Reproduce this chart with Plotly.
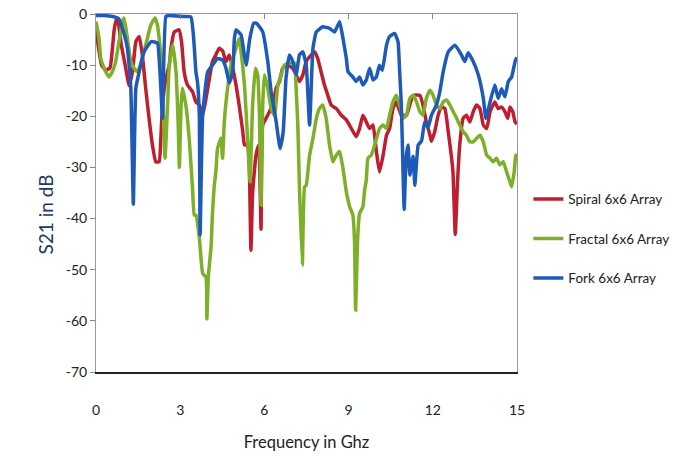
import plotly.graph_objects as go

# ---------------- data ----------------
spiral_freq = [0, 0.1, 0.2, 0.35, 0.5, 0.58, 0.65, 0.71, 0.8, 0.9, 1.04, 1.18, 1.3, 1.42, 1.54, 1.65, 1.77,
               1.89, 2.01, 2.13, 2.25, 2.31, 2.37, 2.49, 2.61, 2.67, 2.79, 2.96, 3.05, 3.14, 3.26, 3.44,
               3.56, 3.68, 3.8, 3.92, 4.04, 4.15, 4.27, 4.39, 4.51, 4.63, 4.75, 4.87, 4.99, 5.1, 5.23,
               5.29, 5.4, 5.46, 5.52, 5.58, 5.7, 5.8, 5.88, 5.94, 6.06, 6.18, 6.3, 6.42, 6.54, 6.65,
               6.83, 7.01, 7.13, 7.25, 7.37, 7.49, 7.67, 7.79, 7.9, 8.02, 8.14, 8.26, 8.38, 8.56, 8.74,
               8.92, 9.1, 9.27, 9.39, 9.51, 9.63, 9.75, 9.87, 9.99, 10.1, 10.23, 10.35, 10.46, 10.58,
               10.7, 10.88, 11.06, 11.18, 11.3, 11.54, 11.65, 11.77, 11.9, 11.95, 12.07, 12.19, 12.31,
               12.43, 12.55, 12.67, 12.72, 12.8, 12.88, 12.96, 13.08, 13.2, 13.32, 13.44, 13.56, 13.68,
               13.8, 13.92, 14.04, 14.21, 14.33, 14.45, 14.57, 14.67, 14.75, 14.85, 14.93, 15]
spiral_s21 = [-3, -7, -10, -11, -10.5, -7, -3, -1.2, -2, -6, -10, -14, -11.3, -5.4, -4.4, -8, -14.5,
              -20.4, -25.6, -28.9, -28.9, -24.3, -17.8, -12.6, -10, -6.7, -3.5, -3.1, -5.5, -11.3, -13.9, -15.2,
              -17.2, -17.8, -19.8, -16.5, -12.6, -9.3, -8, -6.7, -7.2, -9.3, -8, -10.6, -13.9, -17.8, -23,
              -25.6, -25.6, -29.5, -46.2, -35, -27.6, -25.6, -42.1, -21.7, -20.4, -19.1, -17.8, -14.5, -13.2, -10.6,
              -10, -10.6, -11.9, -13.2, -11.9, -9.3, -8, -7.4, -8.7, -11.3, -13.9, -15.9, -17.8, -18.5, -19.8,
              -20.7, -22.4, -24, -22.4, -19.8, -21.1, -22.4, -21.7, -26.9, -30.9, -27.6, -23.7, -22.4, -18.5,
              -17.2, -19.8, -19.8, -17.8, -15.9, -15.9, -17.8, -21.1, -23.7, -24.9, -23, -19.8, -18.2,
              -18.5, -23, -28.2, -31, -43.1, -33, -25.6, -20.4, -19.8, -21.1, -19.1, -17.8, -18.5,
              -21.7, -22.4, -19.1, -17.2, -18.5, -18.2, -19.1, -20.4, -18.2, -19.1, -21.1, -21.5]

fractal_freq = [0, 0.11, 0.17, 0.29, 0.46, 0.58, 0.7, 0.82, 0.94, 1.0, 1.12, 1.24, 1.36, 1.48, 1.6, 1.71,
                1.83, 1.95, 2.1, 2.19, 2.31, 2.39, 2.46, 2.55, 2.61, 2.73, 2.85, 2.93, 2.97, 3.03, 3.08,
                3.2, 3.32, 3.44, 3.5, 3.56, 3.68, 3.8, 3.92, 3.95, 4.0, 4.1, 4.15, 4.21, 4.27, 4.33, 4.45,
                4.51, 4.57, 4.69, 4.81, 4.99, 5.1, 5.17, 5.29, 5.4, 5.49, 5.58, 5.68, 5.76, 5.82, 5.88,
                5.94, 6.0, 6.12, 6.24, 6.36, 6.48, 6.6, 6.71, 6.89, 7.07, 7.13, 7.19, 7.25, 7.35, 7.43,
                7.49, 7.61, 7.73, 7.85, 7.96, 8.08, 8.2, 8.32, 8.44, 8.56, 8.68, 8.8, 8.92, 9.04, 9.15,
                9.21, 9.25, 9.32, 9.39, 9.51, 9.57, 9.63, 9.69, 9.81, 9.93, 10.1, 10.23, 10.35, 10.46,
                10.58, 10.7, 10.82, 10.94, 11.06, 11.18, 11.3, 11.42, 11.54, 11.65, 11.77, 11.9, 12.01,
                12.13, 12.25, 12.37, 12.49, 12.61, 12.73, 12.85, 12.96, 13.08, 13.2, 13.32, 13.44, 13.56,
                13.68, 13.8, 13.92, 14.04, 14.15, 14.27, 14.39, 14.51, 14.63, 14.75, 14.81, 14.9, 14.96, 15]
fractal_s21 = [-1.5, -4.8, -8.7, -10.6, -12.3, -11.3, -9.3, -5.4, -1.5, -0.8, -4.8, -9.3, -10.6, -11.3, -9.6, -7.4,
               -4.8, -2.2, -0.8, -2.2, -8, -17.8, -28.2, -17.8, -10, -6, -11.3, -22, -30, -18, -14.5,
               -17.8, -24.3, -34.1, -39.3, -39.3, -43.6, -50.7, -51.5, -59.6, -51.5, -45.5, -39, -33.8, -30.9, -26.3, -24.3,
               -28.2, -21.1, -14.5, -10, -6.7, -4.8, -7.4, -13.9, -24.3, -32.8, -17.8, -10.6, -11.9, -19.1, -37.4,
               -17.8, -11.9, -14.5, -18.5, -19.8, -13.9, -11.9, -10, -9.6, -9.6, -14.5, -21.7, -34.1, -49.1, -33.8,
               -33.5, -27.6, -24.3, -20.4, -18.5, -17.8, -20.4, -25.6, -28.9, -27.6, -26.9, -30.2, -34.8, -37.7, -39.3,
               -44.2, -57.9, -44.2, -39, -37.7, -34.4, -32.5, -28.2, -27.6, -25.6, -22.4, -21.7, -22.4, -19.8,
               -17.2, -15.9, -17.8, -20.4, -19.8, -16.5, -15.9, -17.2, -19.1, -19.8, -16.5, -14.9, -15.9,
               -17.8, -18.5, -17.2, -16.8, -17.8, -19.1, -20.4, -21.7, -23, -23.7, -25, -25, -24.3,
               -23.7, -25, -27.6, -28.2, -28.9, -28.2, -29.5, -28.9, -30.9, -32.8, -33.8, -30.9, -27.6, -27.5]

fork_freq = [0, 0.3, 0.6, 0.82, 0.94, 1.12, 1.24, 1.33, 1.42, 1.54, 1.71, 1.97, 2.19, 2.25, 2.31, 2.37,
             2.49, 2.6, 2.9, 3.1, 3.38, 3.48, 3.56, 3.62, 3.68, 3.71, 3.8, 3.98, 4.15, 4.33, 4.51, 4.63,
             4.75, 4.87, 4.93, 4.99, 5.17, 5.27, 5.35, 5.48, 5.62, 5.72, 5.94, 6.12, 6.24, 6.42, 6.56,
             6.67, 6.77, 6.89, 7.01, 7.13, 7.25, 7.37, 7.49, 7.61, 7.73, 7.85, 8.08, 8.32, 8.5, 8.68,
             8.8, 8.92, 8.98, 9.15, 9.27, 9.39, 9.51, 9.63, 9.75, 9.87, 9.99, 10.1, 10.2, 10.35, 10.46,
             10.64, 10.76, 10.82, 10.88, 10.94, 10.98, 11.05, 11.12, 11.18, 11.3, 11.36, 11.48, 11.6,
             11.71, 11.83, 11.95, 12.13, 12.25, 12.37, 12.55, 12.79, 13.02, 13.14, 13.26, 13.44, 13.62,
             13.8, 13.89, 14.04, 14.21, 14.33, 14.45, 14.57, 14.69, 14.81, 14.96, 15]
fork_s21 = [-0.3, -0.3, -0.5, -1, -2.8, -6.7, -14.5, -37.2, -14.5, -11.3, -7.4, -5.4, -5.7, -8.7, -14.5, -20.4,
            -0.5, -0.3, -0.4, -0.5, -0.6, -4.8, -11.3, -13.5, -19.8, -43.2, -19.8, -11.3, -10, -8.7, -9, -10.6,
            -13.5, -11.3, -4.8, -3.1, -4.1, -7.5, -10, -4.8, -1.8, -1.8, -3.5, -9.3, -15.2, -21.1, -26.3,
            -23, -12.6, -8, -9.3, -11.9, -8, -7.4, -10, -21.7, -6.7, -3.5, -2.5, -2.8, -3.5, -1.5,
            -4.8, -8.7, -11.3, -12.3, -13.2, -12.3, -13.9, -12.9, -10.6, -12.9, -12.3, -10, -11, -6.1, -4.4,
            -3.8, -5.4, -11.3, -17.9, -30.9, -38.2, -28, -25.6, -31.5, -27.8, -33.5, -25.6, -24.8,
            -21.1, -22.2, -19.8, -17.8, -15.2, -11.3, -7.4, -6.1, -8, -9.3, -7.6, -9.3, -11.9,
            -16.5, -20.4, -17.2, -13.9, -16.5, -14.6, -16.2, -13.2, -12.3, -8.7, -9]

series_names = ["Spiral 6x6 Array", "Fractal 6x6 Array", "Fork 6x6 Array"]
series_colors = ["#BE1E2D", "#7DAF28", "#1E5AB9"]
x_ticks = [0, 3, 6, 9, 12, 15]
y_ticks = [0, -10, -20, -30, -40, -50, -60, -70]
x_title = "Frequency in Ghz"
y_title = "S21 in dB"

FONT = "Lato, 'Open Sans', sans-serif"

fig = go.Figure()
for name, fx, fy, col in zip(series_names,
                             [spiral_freq, fractal_freq, fork_freq],
                             [spiral_s21, fractal_s21, fork_s21],
                             series_colors):
    fig.add_trace(go.Scatter(x=fx, y=fy, mode="lines", name=name, legendgroup=name,
                             line=dict(color=col, width=3.5, shape="spline", smoothing=0.4)))

# the page body adds an 8px offset; margins compensate so the plot sits where the reference has it
fig.update_layout(
    width=698, height=457,
    margin=dict(l=88, r=189, t=6, b=93),
    plot_bgcolor="white", paper_bgcolor="white",
    font=dict(family=FONT, size=14, color="#222"),
    showlegend=True,
    legend=dict(x=1.027, xanchor="left", y=0.526, yanchor="top",
                traceorder="grouped", tracegroupgap=19,
                font=dict(family=FONT, size=13.5, color="#222"),
                bgcolor="rgba(0,0,0,0)", itemwidth=30),
    xaxis=dict(range=[0, 15], tickvals=x_ticks, ticks="", showgrid=False, zeroline=False,
               showline=True, linecolor="#222", linewidth=2, automargin=False,
               ticklabelstandoff=24, tickfont=dict(size=14),
               title=dict(text=x_title, standoff=20,
                          font=dict(family=FONT, size=16.5, color="#222"))),
    xaxis2=dict(range=[0, 15], overlaying="x", side="top", tickvals=x_ticks, ticks="inside",
                ticklen=5, tickcolor="#888", showticklabels=False, showgrid=False, zeroline=False,
                showline=True, linecolor="#999", linewidth=1, automargin=False),
    yaxis=dict(range=[-70, 0], tickvals=y_ticks, ticktext=[str(v) for v in y_ticks],
               ticks="outside", ticklen=5, tickcolor="#888", automargin=False,
               ticklabeloverflow="allow", tickfont=dict(size=14),
               showgrid=False, zeroline=False, showline=True, linecolor="#999", linewidth=1,
               mirror=True),
    annotations=[dict(text=y_title, xref="paper", yref="paper", x=-0.121, y=0.44,
                      xanchor="center", yanchor="middle", textangle=-90, showarrow=False,
                      font=dict(family=FONT, size=19, color="#1F3A5F"))],
)
# invisible helper trace so the top axis is drawn
fig.add_trace(go.Scatter(x=[0, 15], y=[None, None], xaxis="x2", showlegend=False, hoverinfo="skip"))

fig.write_html("out.html")
